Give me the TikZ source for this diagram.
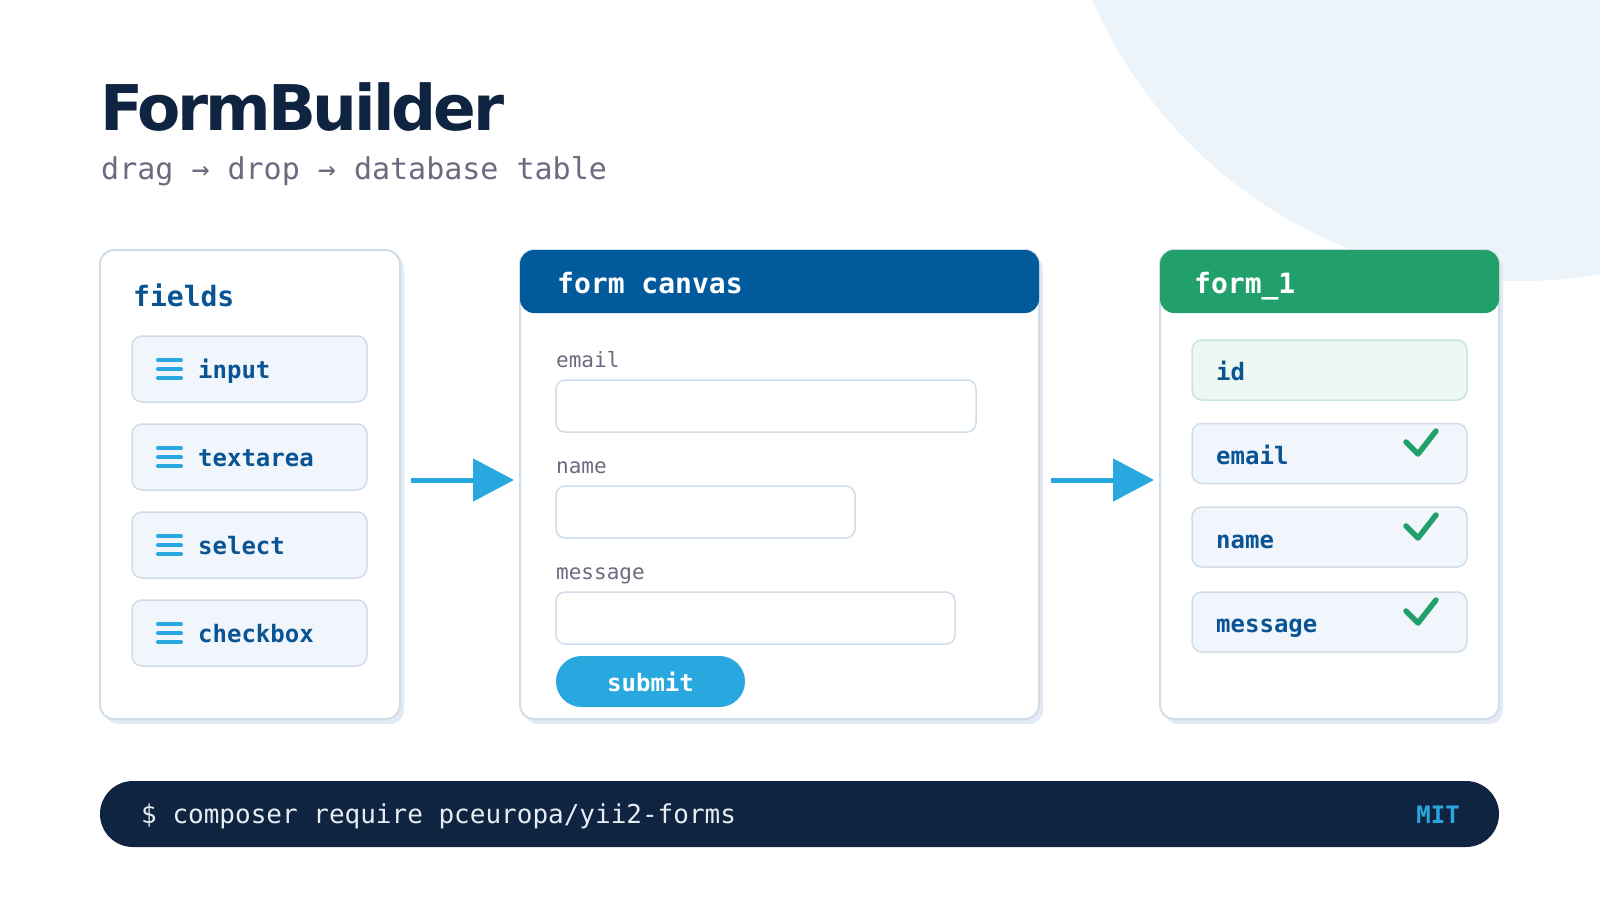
\documentclass[tikz,border=0pt]{standalone}
\usepackage{fontspec}
\setmainfont{DejaVu Sans}
\setmonofont{DejaVu Sans Mono}
\usepackage{tikz}
\usetikzlibrary{arrows.meta,positioning}
\definecolor{fbnavy}{RGB}{15,36,64}
\definecolor{fbblue}{RGB}{0,90,156}
\definecolor{fbink}{RGB}{10,84,148}
\definecolor{fbsky}{RGB}{41,168,224}
\definecolor{fbgreen}{RGB}{34,160,107}
\definecolor{fbgray}{RGB}{107,107,128}
\definecolor{fbborder}{RGB}{208,220,232}
\definecolor{fbfill}{RGB}{240,246,252}
\definecolor{fbmint}{RGB}{238,248,242}
\definecolor{fbmintline}{RGB}{200,230,213}
\definecolor{fbbubble}{RGB}{237,244,249}
\definecolor{fbshadow}{RGB}{226,234,243}
\definecolor{fbcmdtext}{RGB}{230,236,242}

\tikzset{
  panel/.style={draw=fbborder, line width=2pt, fill=white, rounded corners=14pt, inner sep=0pt},
  panelshadow/.style={fill=fbshadow, rounded corners=14pt},
  header/.style={rounded corners=14pt, inner sep=0pt, minimum height=63pt},
  headtext/.style={anchor=base west, inner sep=0pt, text=white, font=\fontsize{28}{32}\selectfont\ttfamily\bfseries},
  fieldbox/.style={draw=fbborder, line width=1.5pt, fill=fbfill, rounded corners=10pt, inner sep=0pt, minimum height=66pt},
  fieldtext/.style={anchor=base west, inner sep=0pt, text=fbink, font=\fontsize{24}{28}\selectfont\ttfamily\bfseries},
  iconbar/.style={fbsky, line width=4pt, line cap=round},
  inputbox/.style={draw=fbborder, line width=1.5pt, fill=white, rounded corners=9pt, inner sep=0pt, minimum height=52pt},
  inputlabel/.style={anchor=base west, inner sep=0pt, text=fbgray, font=\fontsize{21}{25}\selectfont\ttfamily},
  rowbox/.style={draw=fbborder, line width=1.5pt, fill=fbfill, rounded corners=10pt, inner sep=0pt, minimum width=275pt, minimum height=60pt},
  tick/.style={fbgreen, line width=5.5pt, line cap=round, line join=round},
  flowarrow/.style={fbsky, line width=5pt, -{Triangle[length=41pt,width=42pt]}},
}

\begin{document}
\begin{tikzpicture}[x=1pt,y=-1pt]
\useasboundingbox (0,0) rectangle (1600,900);
\fill[white] (0,0) rectangle (1600,900);
\begin{scope}
\clip (0,0) rectangle (1600,900);
\fill[fbbubble] (1520,-185) circle (466);
\end{scope}

% title
\node[anchor=base west, inner sep=0pt, text=fbnavy, font=\fontsize{63}{70}\selectfont\bfseries\addfontfeature{LetterSpace=-5}] (title) at (100,130) {FormBuilder};
\node[anchor=base west, inner sep=0pt, text=fbgray, font=\fontsize{30}{36}\selectfont\ttfamily] (subtitle) at (101,179) {drag → drop → database table};

% fields panel
\fill[panelshadow] (104,255) rectangle (404,724);
\node[panel, minimum width=300pt, minimum height=469pt] (fields) at (250,484.5) {};
\node[fieldtext, font=\fontsize{28}{32}\selectfont\ttfamily\bfseries] (fields-title) at (133,306) {fields};

\node[fieldbox, minimum width=235pt] (f-input) at (249.5,369) {};
\draw[iconbar] (158,360) -- (181,360) (158,369) -- (181,369) (158,378) -- (181,378);
\node[fieldtext] (t-input) at (198,378) {input};

\node[fieldbox, minimum width=235pt] (f-textarea) at (249.5,457) {};
\draw[iconbar] (158,448) -- (181,448) (158,457) -- (181,457) (158,466) -- (181,466);
\node[fieldtext] (t-textarea) at (198,466) {textarea};

\node[fieldbox, minimum width=235pt] (f-select) at (249.5,545) {};
\draw[iconbar] (158,536) -- (181,536) (158,545) -- (181,545) (158,554) -- (181,554);
\node[fieldtext] (t-select) at (198,554) {select};

\node[fieldbox, minimum width=235pt] (f-checkbox) at (249.5,633) {};
\draw[iconbar] (158,624) -- (181,624) (158,633) -- (181,633) (158,642) -- (181,642);
\node[fieldtext] (t-checkbox) at (198,642) {checkbox};

% canvas panel
\fill[panelshadow] (524,255) rectangle (1043,724);
\node[panel, minimum width=519pt, minimum height=469pt] (canvas) at (779.5,484.5) {};
\node[header, fill=fbblue, minimum width=519pt] (canvas-head) at (779.5,281.5) {};
\node[headtext] (canvas-title) at (557,293) {form canvas};

\node[inputlabel] (l-email) at (556,367) {email};
\node[inputbox, minimum width=420pt] (i-email) at (766,406) {};
\node[inputlabel] (l-name) at (556,473) {name};
\node[inputbox, minimum width=299pt] (i-name) at (705.5,512) {};
\node[inputlabel] (l-message) at (556,579) {message};
\node[inputbox, minimum width=399pt] (i-message) at (755.5,618) {};
\node[fill=fbsky, rounded corners=25.5pt, minimum width=189pt, minimum height=51pt, inner sep=0pt,
      text=white, font=\fontsize{24}{28}\selectfont\ttfamily\bfseries] (submit) at (650.5,681.5) {submit};

% table panel
\fill[panelshadow] (1164,255) rectangle (1503,724);
\node[panel, minimum width=339pt, minimum height=469pt] (table) at (1329.5,484.5) {};
\node[header, fill=fbgreen, minimum width=339pt] (table-head) at (1329.5,281.5) {};
\node[headtext] (table-title) at (1194,293) {form\_1};

\node[rowbox, fill=fbmint, draw=fbmintline] (r-id) at (1329.5,370) {};
\node[fieldtext] (c-id) at (1216,380) {id};
\node[rowbox] (r-email) at (1329.5,453.5) {};
\node[fieldtext] (c-email) at (1216,464) {email};
\draw[tick] (1406,442) -- (1418,454) -- (1436,431);
\node[rowbox] (r-name) at (1329.5,537) {};
\node[fieldtext] (c-name) at (1216,548) {name};
\draw[tick] (1406,526) -- (1418,538) -- (1436,515);
\node[rowbox] (r-message) at (1329.5,622) {};
\node[fieldtext] (c-message) at (1216,632) {message};
\draw[tick] (1406,611) -- (1418,623) -- (1436,600);

% arrows
\coordinate (a1s) at (411,480);
\coordinate (a1e) at (514,480);
\coordinate (a2s) at (1051,480);
\coordinate (a2e) at (1154,480);
\draw[flowarrow] (a1s) -- (a1e);
\draw[flowarrow] (a2s) -- (a2e);

% install bar
\node[fill=fbnavy, rounded corners=33pt, minimum width=1399pt, minimum height=66pt, inner sep=0pt] (cmd) at (799.5,814) {};
\node[anchor=base west, inner sep=0pt, text=fbcmdtext, font=\fontsize{26}{30}\selectfont\ttfamily] (cmd-text) at (141,823) {\$ composer require pceuropa/yii2-forms};
\node[anchor=base east, inner sep=0pt, text=fbsky, font=\fontsize{24}{28}\selectfont\ttfamily\bfseries] (licence) at (1460,823) {MIT};
\end{tikzpicture}
\end{document}
